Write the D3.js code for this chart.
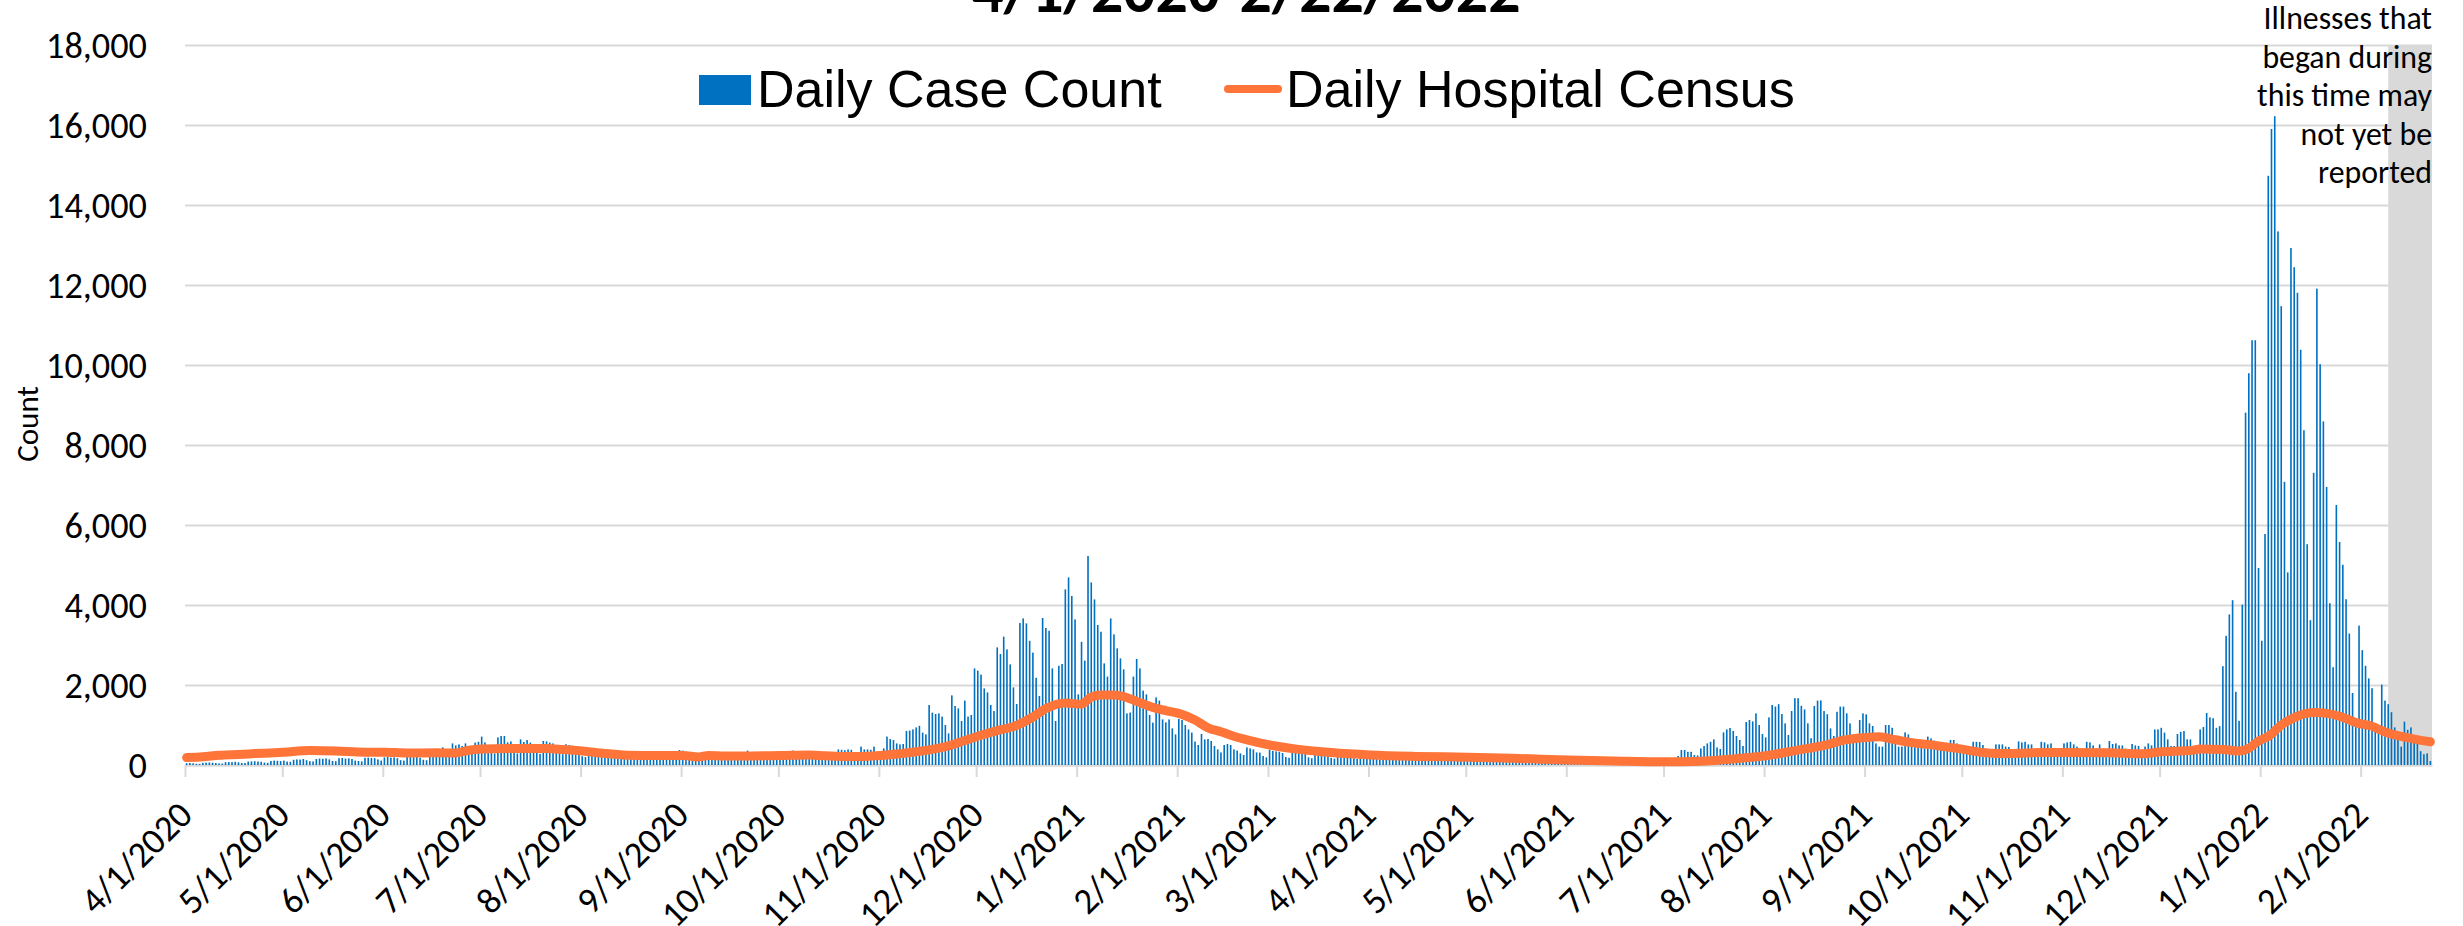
<!DOCTYPE html>
<html>
<head>
<meta charset="utf-8">
<script src="https://cdn.jsdelivr.net/npm/d3@7"></script>
<style>
  body { margin: 0; background: #fff; }
  svg { display: block; }
  .calib { font-family: Carlito, Calibri, Lato, sans-serif; fill: #000; }
  .arial { font-family: "Liberation Sans", Arial, sans-serif; fill: #000; }
</style>
</head>
<body>
<svg width="2463" height="926"></svg>
<script>
const title = "4/1/2020-2/22/2022";
const seriesNames = ["Daily Case Count", "Daily Hospital Census"];
const noteLines = ["Illnesses that", "began during", "this time may", "not yet be", "reported"];
const yTicks = [0, 2000, 4000, 6000, 8000, 10000, 12000, 14000, 16000, 18000];
const startDate = "2020-04-01";
const endDate = "2022-02-23";
const shadeStart = "2022-02-10";

// daily case counts, one row per month, starting 4/1/2020
const dailyCases = [
  45,50,42,30,28,55,60,62,58,50,38,35,70,75,72,80,68,52,48,85,90,95,88,80,60,55,100,110,105,98,
  110,85,80,130,140,135,150,120,95,90,150,160,155,165,140,100,95,170,175,160,165,150,110,100,90,180,185,175,170,140,110,
  190,200,185,190,170,120,110,200,210,195,205,180,130,120,215,230,220,240,440,250,230,540,490,515,475,540,330,300,560,580,
  710,565,330,300,290,690,725,725,565,590,330,290,640,575,625,560,520,300,280,600,590,560,540,500,300,270,520,500,480,450,420,
  220,200,350,330,320,310,300,230,210,320,300,290,280,270,200,180,280,270,260,250,240,180,170,250,240,230,240,220,170,160,375,
  360,230,220,210,150,140,130,220,215,210,200,150,140,230,225,220,210,200,150,140,360,240,230,220,210,150,140,250,240,230,
  260,250,180,170,360,280,350,270,260,190,180,350,290,280,270,260,200,190,390,380,370,390,380,230,220,460,390,390,380,460,260,
  290,415,710,650,625,540,515,525,850,860,890,940,980,810,765,1500,1310,1275,1290,1210,1000,790,1740,1475,1415,1100,1610,1210,1250,2415,
  2360,2260,1915,1815,1500,1350,2940,2775,3210,2890,2515,1940,1525,3550,3665,3540,3105,2810,2180,1725,3675,3425,3355,2415,1100,2480,2525,4390,4690,4225,3640,
  1765,3080,2610,5225,4565,4140,3500,3330,2540,2210,3665,3265,2915,2665,2390,1290,1310,2210,2650,2415,1860,1765,1250,1060,1690,1610,1140,1065,1140,915,765,
  1150,1125,1000,890,810,585,500,775,640,650,600,475,390,315,500,525,500,390,360,290,250,440,415,390,315,310,225,190,
  380,350,340,330,300,200,180,360,340,330,310,290,190,170,340,320,310,300,280,180,160,330,310,300,290,270,170,150,310,290,280,
  270,250,160,140,330,300,280,270,260,170,150,310,290,280,270,250,160,140,290,270,260,250,230,150,130,260,240,230,220,210,
  130,120,220,200,190,180,170,110,100,200,190,180,170,160,100,90,180,170,160,150,140,90,80,160,150,140,130,120,80,70,60,
  140,120,110,100,60,55,110,100,95,90,85,50,45,90,85,80,75,70,40,40,80,75,70,65,60,40,35,70,65,60,
  60,55,40,30,225,375,375,330,330,250,240,415,475,540,580,640,440,400,815,890,925,850,725,625,475,1075,1125,1090,1290,1000,775,
  690,1190,1500,1460,1520,1275,1040,750,1350,1670,1670,1480,1390,1040,670,1475,1610,1615,1350,1270,915,725,1330,1460,1460,1290,1040,765,700,1125,1290,
  1265,1040,975,540,460,460,1000,1000,930,725,460,460,815,765,665,625,615,460,415,710,665,610,460,460,390,375,625,625,540,480,
  490,375,325,580,580,575,500,330,275,275,515,515,515,460,450,290,250,590,565,580,515,515,390,310,580,565,515,540,410,310,310,
  540,565,580,515,460,310,310,580,565,490,415,515,325,325,600,525,540,490,490,410,325,525,490,475,330,460,540,490,890,890,
  930,810,640,475,475,775,830,850,640,640,475,290,890,950,1300,1190,1170,930,970,2470,3230,3765,4120,1830,1105,4010,8810,9795,10620,10620,4925,
  3105,5775,14730,15900,16220,13340,11470,7080,4815,12925,12445,11805,10380,8370,5520,3620,7305,11910,10020,8590,6950,4045,2445,6500,5575,5005,4145,3285,1800,1150,3485,
  2870,2480,2165,1920,940,850,2010,1610,1520,1320,940,750,460,1085,880,940,715,605,345,270,290,100
];

// hospital census readings
const censusDates = [
  "2020-04-01","2020-04-06","2020-04-11","2020-04-17","2020-04-22","2020-05-01","2020-05-09","2020-05-17","2020-05-26",
  "2020-06-01","2020-06-08","2020-06-17","2020-06-23","2020-06-27","2020-07-01","2020-07-09","2020-07-16","2020-07-21","2020-07-26",
  "2020-08-01","2020-08-08","2020-08-15","2020-08-23","2020-09-01","2020-09-06","2020-09-09","2020-09-14","2020-09-19",
  "2020-10-01","2020-10-10","2020-10-15","2020-10-22","2020-11-01","2020-11-12","2020-11-22","2020-12-01","2020-12-07","2020-12-12",
  "2020-12-18","2020-12-22","2020-12-28","2021-01-02","2021-01-05","2021-01-08","2021-01-12","2021-01-15","2021-01-19","2021-01-24",
  "2021-01-28","2021-02-01","2021-02-06","2021-02-10","2021-02-14","2021-02-18","2021-02-23","2021-03-01","2021-03-10","2021-03-20",
  "2021-04-01","2021-04-15","2021-05-01","2021-05-15","2021-06-01","2021-06-15","2021-07-01","2021-07-10","2021-07-20",
  "2021-08-01","2021-08-10","2021-08-20","2021-08-25","2021-09-01","2021-09-05","2021-09-10","2021-09-15","2021-09-20","2021-09-25",
  "2021-10-01","2021-10-05","2021-10-10","2021-10-15","2021-10-25","2021-11-01","2021-11-15","2021-11-25","2021-12-01","2021-12-10",
  "2021-12-13","2021-12-20","2021-12-25","2021-12-28","2021-12-31","2022-01-03","2022-01-07","2022-01-12","2022-01-17","2022-01-21",
  "2022-01-25","2022-01-30","2022-02-04","2022-02-08","2022-02-13","2022-02-18","2022-02-22"
];
const censusValues = [
  185,205,245,265,285,320,360,350,320,
  320,300,305,300,370,400,415,415,410,385,
  350,285,245,235,240,200,240,225,225,
  235,250,230,210,240,330,480,720,860,960,
  1200,1410,1550,1520,1700,1750,1750,1710,1590,1440,
  1360,1290,1125,930,830,720,610,500,390,310,
  250,215,195,170,125,100,80,90,140,
  230,360,510,620,690,705,630,560,515,460,
  390,335,295,290,310,315,305,280,330,360,
  400,390,350,420,600,715,995,1220,1310,1290,
  1220,1060,970,825,715,635,580
];

const svg = d3.select("svg");
const margin = { top: 45, left: 185, right: 31, bottom: 161 };
const width = +svg.attr("width") - margin.left - margin.right;
const height = +svg.attr("height") - margin.top - margin.bottom;
const parseDate = d3.timeParse("%Y-%m-%d");

// pick a font size so a sample string comes out at the width it has in the original
function fitSize(sample, cls, target, weight) {
  const t = svg.append("text").attr("class", cls)
    .style("font-size", "40px").style("font-weight", weight || "normal").text(sample);
  const w = t.node().getComputedTextLength();
  t.remove();
  return 40 * target / w;
}
const yLabelSize = fitSize("18,000", "calib", 101);
const xLabelSize = fitSize("4/1/2020", "calib", 140);
const noteSize = fitSize("this time may", "calib", 175);
const titleSize = fitSize(title, "calib", 549, "bold");

svg.append("rect").attr("width", 2463).attr("height", 926).attr("fill", "#fff");

const g = svg.append("g").attr("transform", `translate(${margin.left}, ${margin.top})`);

const x = d3.scaleTime().domain([parseDate(startDate), parseDate(endDate)]).range([0, width]);
const y = d3.scaleLinear().domain([0, 18000]).range([height, 0]);
const dayW = x(d3.timeDay.offset(x.domain()[0], 1)) - x(x.domain()[0]);

const cases = dailyCases.map((v, i) => ({ date: d3.timeDay.offset(parseDate(startDate), i), value: v }));
const census = censusDates.map((d, i) => ({ date: parseDate(d), value: censusValues[i] }));

// y gridlines + labels
const yAxis = d3.axisLeft(y).tickValues(yTicks).tickSize(-width).tickFormat(d3.format(","));
g.append("g")
  .call(yAxis)
  .call(ax => {
    ax.select(".domain").remove();
    ax.selectAll(".tick line").attr("stroke", "#d9d9d9").attr("stroke-width", 2);
    ax.selectAll(".tick text").attr("class", "calib").attr("x", -38).attr("dy", "0.35em")
      .style("font-size", yLabelSize + "px");
  });

// shaded "not yet reported" area
const shadeX = x(parseDate(shadeStart)) - dayW / 2;
g.append("rect")
  .attr("x", shadeX).attr("y", 0)
  .attr("width", width - shadeX).attr("height", height)
  .attr("fill", "#d9d9d9");

// x axis
const xAxis = d3.axisBottom(x).ticks(d3.timeMonth.every(1)).tickSize(12).tickSizeOuter(0)
  .tickFormat(d3.timeFormat("%-m/%-d/%Y"));
g.append("g")
  .attr("transform", `translate(0, ${height})`)
  .call(xAxis)
  .call(ax => {
    ax.select(".domain").attr("stroke", "#d9d9d9").attr("stroke-width", 2);
    ax.selectAll(".tick line").attr("stroke", "#d9d9d9").attr("stroke-width", 2);
    ax.selectAll(".tick text").attr("class", "calib")
      .attr("x", 0).attr("y", 0).attr("dy", 0)
      .attr("text-anchor", "end")
      .attr("transform", "translate(9, 52) rotate(-45)")
      .style("font-size", xLabelSize + "px");
  });

// bars
const barW = 1.6;
g.append("g").selectAll("rect")
  .data(cases)
  .join("rect")
  .attr("x", d => x(d.date) + dayW / 2 - barW / 2)
  .attr("y", d => y(d.value))
  .attr("width", barW)
  .attr("height", d => y(0) - y(d.value))
  .attr("fill", "#0070c0");

// hospital census line
const valueline = d3.line()
  .curve(d3.curveMonotoneX)
  .x(d => x(d.date) + dayW / 2)
  .y(d => y(d.value));
g.append("path")
  .datum(census)
  .attr("d", valueline)
  .attr("fill", "none")
  .attr("stroke", "#ff7438")
  .attr("stroke-width", 9)
  .attr("stroke-linecap", "round")
  .attr("stroke-linejoin", "round");

// title (mostly cut off at top)
svg.append("text")
  .attr("class", "calib")
  .attr("x", 1246).attr("y", 12)
  .attr("text-anchor", "middle")
  .style("font-size", titleSize + "px").style("font-weight", "bold")
  .text(title);

// legend
svg.append("rect").attr("x", 699).attr("y", 75).attr("width", 52).attr("height", 30).attr("fill", "#0070c0");
svg.append("text").attr("class", "arial").attr("x", 757).attr("y", 107)
  .style("font-size", "52px").text(seriesNames[0]);
svg.append("line").attr("x1", 1228).attr("x2", 1278).attr("y1", 89).attr("y2", 89)
  .attr("stroke", "#ff7438").attr("stroke-width", 8).attr("stroke-linecap", "round");
svg.append("text").attr("class", "arial").attr("x", 1286).attr("y", 107)
  .style("font-size", "52px").text(seriesNames[1]);

// annotation
svg.append("g").selectAll("text")
  .data(noteLines)
  .join("text")
  .attr("class", "calib")
  .attr("x", 2432)
  .attr("y", (d, i) => 29 + i * 38.5)
  .attr("text-anchor", "end")
  .style("font-size", noteSize + "px")
  .text(d => d);

// y axis title
svg.append("text")
  .attr("class", "calib")
  .attr("transform", "translate(27, 424) rotate(-90)")
  .attr("text-anchor", "middle")
  .attr("dy", "0.35em")
  .style("font-size", "31px")
  .text("Count");
</script>
</body>
</html>
